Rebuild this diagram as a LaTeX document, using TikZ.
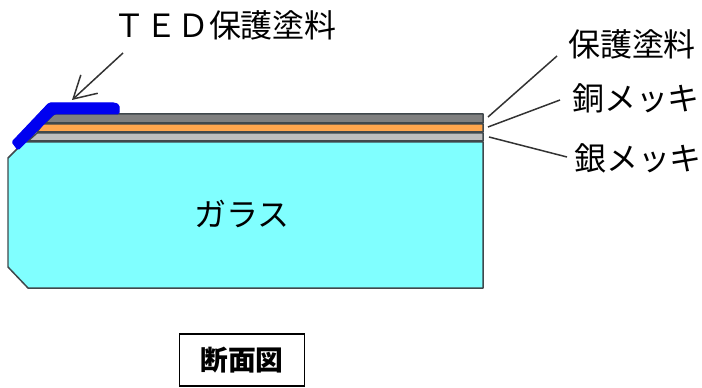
\documentclass[tikz,border=0pt]{standalone}
\usepackage{fontspec}
\setmainfont{Noto Sans CJK JP}
\usetikzlibrary{arrows.meta}
\definecolor{glasscol}{RGB}{128,255,255}
\definecolor{edgecol}{RGB}{64,72,76}
\definecolor{toplayer}{RGB}{128,128,128}
\definecolor{cuplayer}{RGB}{255,166,77}
\definecolor{aglayer}{RGB}{190,190,190}
\definecolor{tedblue}{RGB}{0,0,240}
\definecolor{leadcol}{RGB}{51,51,51}
\begin{document}
\begin{tikzpicture}[
        x=0.02cm,y=-0.02cm,
        layer/.style={draw=edgecol,line width=0.03cm,line join=round},
        leader/.style={draw=leadcol,line width=0.03cm},
        label/.style={font=\fontsize{18.2pt}{20pt}\selectfont,inner sep=0pt,text=black}]
    \useasboundingbox (0,0) rectangle (702,388);
    % glass and the plated layers
    \draw[layer,fill=glasscol] (8,158) -- (24,142) -- (483,142) -- (483,288) -- (28,288) -- (8,267) -- cycle;
    \draw[layer,fill=aglayer] (28,141) -- (37,133) -- (483,133) -- (483,141) -- cycle;
    \draw[layer,fill=cuplayer] (37,132) -- (43,124) -- (483,124) -- (483,132) -- cycle;
    \draw[layer,fill=toplayer] (45,123) -- (54,114) -- (483,114) -- (483,123) -- cycle;
    \fill[tedblue,rounded corners=0.03cm,draw=tedblue,line width=0.02cm] (12,142) -- (18,150) -- (54,114) -- (119,114) -- (119,105) -- (115,103) -- (49,103) -- cycle;
    % labels
    \node[label] (tedlabel) at (225,25) {ＴＥＤ保護塗料};
    \node[label] (toplabel) at (632,44) {保護塗料};
    \node[label] (culabel) at (636,98) {銅メッキ};
    \node[label] (aglabel) at (638,158) {銀メッキ};
    \node[label] (glasslabel) at (242,214) {ガラス};
    \node[draw=black,line width=0.03cm,minimum width=2.5cm,minimum height=1.04cm,inner sep=0pt,
        font=\fontsize{15.8pt}{18pt}\selectfont\bfseries] (titlebox) at (242,360) {断面図};
    % leader lines
    \coordinate (tedend) at (123,53);
    \coordinate (tedtip) at (72,100);
    \coordinate (topa) at (488,117);
    \coordinate (topb) at (557,56);
    \coordinate (cua) at (488,127);
    \coordinate (cub) at (560,100);
    \coordinate (aga) at (489,137);
    \coordinate (agb) at (567,157);
    \draw[leader,-{Straight Barb[length=0.44cm,width=0.5cm]}] (tedend) -- (tedtip);
    \draw[leader] (topa) -- (topb);
    \draw[leader] (cua) -- (cub);
    \draw[leader] (aga) -- (agb);
\end{tikzpicture}
\end{document}
